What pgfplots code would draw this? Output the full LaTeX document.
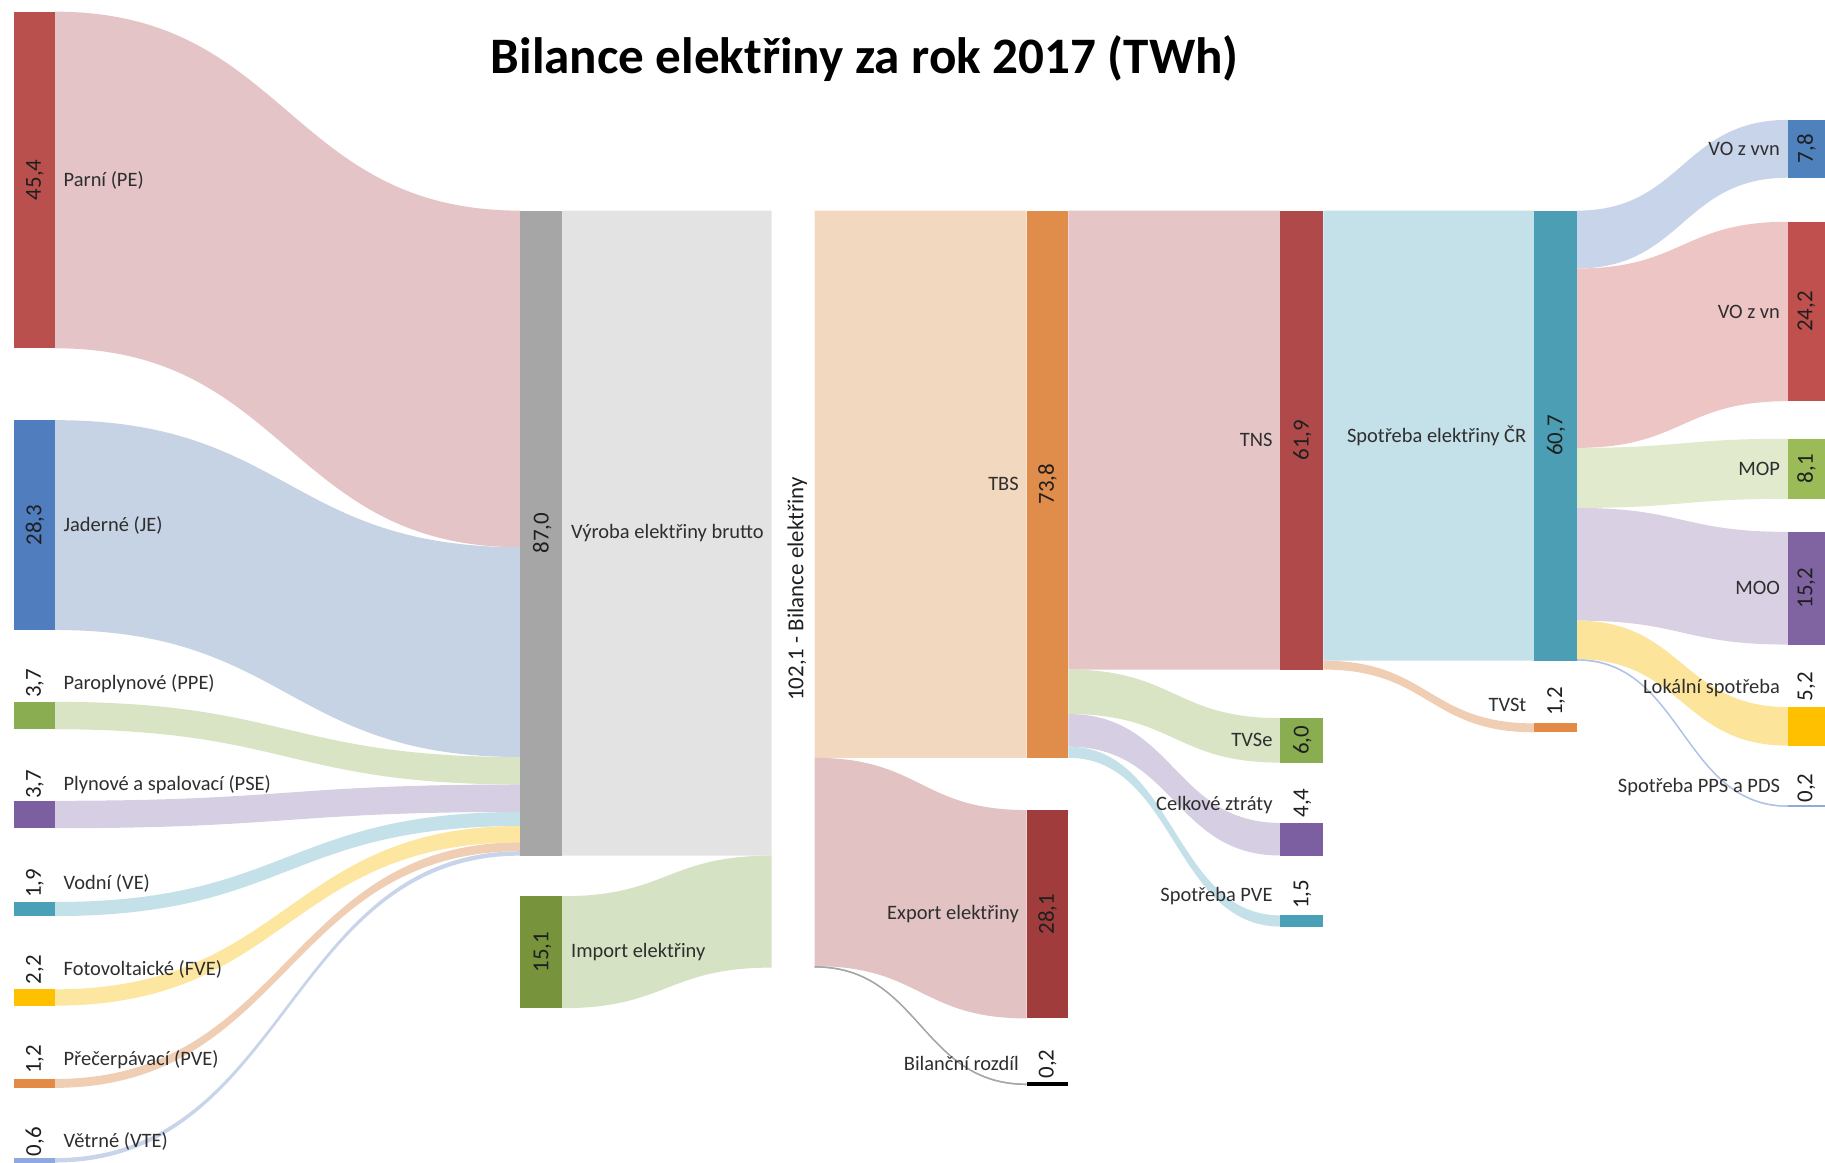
\documentclass[border=0pt]{standalone}
\usepackage{fontspec}
\setmainfont{Carlito}
\usepackage{pgfplots}
\pgfplotsset{compat=1.18}
% node colours
\definecolor{cPE}{HTML}{B9504E}
\definecolor{cJE}{HTML}{4F7DBD}
\definecolor{cPPE}{HTML}{8BAD52}
\definecolor{cPSE}{HTML}{7B5FA0}
\definecolor{cVE}{HTML}{4AA0B6}
\definecolor{cFVE}{HTML}{FFC000}
\definecolor{cPVE}{HTML}{E28A46}
\definecolor{cVTE}{HTML}{8EA9DB}
\definecolor{cVYR}{HTML}{A6A6A6}
\definecolor{cIMP}{HTML}{77933C}
\definecolor{cTBS}{HTML}{E08D4B}
\definecolor{cEXP}{HTML}{A03C3C}
\definecolor{cTNS}{HTML}{B04A4A}
\definecolor{cSPO}{HTML}{4B9EB4}
\definecolor{cVVN}{HTML}{4F81BD}
\definecolor{cVN}{HTML}{C0504D}
\definecolor{cMOP}{HTML}{9BBB59}
\definecolor{cMOO}{HTML}{8064A2}
% flow colours
\definecolor{fPE}{HTML}{E4C4C6}
\definecolor{fJE}{HTML}{C6D3E4}
\definecolor{fGR}{HTML}{D8E4C4}
\definecolor{fPU}{HTML}{D6CEE2}
\definecolor{fTE}{HTML}{C4E0E8}
\definecolor{fYE}{HTML}{FCE6A0}
\definecolor{fOR}{HTML}{F0CEB4}
\definecolor{fBL}{HTML}{C8D4EA}
\definecolor{fGY}{HTML}{E3E3E3}
\definecolor{fIMP}{HTML}{D6E2C4}
\definecolor{fTBS}{HTML}{F3D8C0}
\definecolor{fEXP}{HTML}{E2C2C2}
\definecolor{fTNS}{HTML}{E6C5C7}
\definecolor{fVN}{HTML}{EEC5C5}
\definecolor{fMOP}{HTML}{E1EACD}
\definecolor{fMOO}{HTML}{DAD0E4}
\definecolor{fLOK}{HTML}{FCE49A}

% flow band: x0, top0, bottom0, x1, top1, bottom1, colour
\newcommand{\flow}[7]{%
  \fill[#7] (axis cs:#1,#2) .. controls (axis cs:{0.5*(#1+#4)},#2) and (axis cs:{0.5*(#1+#4)},#5) .. (axis cs:#4,#5)
    -- (axis cs:#4,#6) .. controls (axis cs:{0.5*(#1+#4)},#6) and (axis cs:{0.5*(#1+#4)},#3) .. (axis cs:#1,#3) -- cycle;}
% thin flow drawn as a line along its middle
\newcommand{\thinflow}[5]{%
  \draw[#5, line width=0.35pt] (axis cs:#1,#2) .. controls (axis cs:{0.5*(#1+#3)},#2) and (axis cs:{0.5*(#1+#3)},#4) .. (axis cs:#3,#4);}
% node box: x0, x1, top, bottom, colour
\newcommand{\nbox}[5]{%
  \addplot[fill=#5, draw=none, forget plot] coordinates {(#1,#3) (#2,#3) (#2,#4) (#1,#4)} -- cycle;}

\tikzset{
  lab/.style={font=\fontsize{5}{6}\selectfont, text=black!82, inner sep=0pt},
  val/.style={font=\fontsize{5.6}{6}\selectfont, text=black!88, rotate=90, inner sep=0pt},
}

\begin{document}
\begin{tikzpicture}
\begin{axis}[
  scale only axis, width=15.68cm, height=9.99cm,
  xmin=0, xmax=1568, ymin=0, ymax=156.83, y dir=reverse,
  hide axis, clip=true,
]
% ---------- flows: sources -> Výroba elektřiny brutto ----------
\flow{47}{1.57}{46.97}{447}{28.41}{73.81}{fPE}
\flow{47}{56.67}{84.97}{447}{73.81}{102.11}{fJE}
\flow{47}{94.66}{98.36}{447}{102.11}{105.81}{fGR}
\flow{47}{108.01}{111.71}{447}{105.81}{109.51}{fPU}
\flow{47}{121.66}{123.56}{447}{109.51}{111.41}{fTE}
\flow{47}{133.44}{135.64}{447}{111.41}{113.61}{fYE}
\flow{47}{145.53}{146.73}{447}{113.61}{114.81}{fOR}
\flow{47}{156.20}{156.80}{447}{114.81}{115.41}{fBL}
% ---------- Výroba + Import -> Bilance ----------
\flow{483}{28.41}{115.41}{663}{28.41}{115.41}{fGY}
\flow{483}{120.88}{135.98}{663}{115.41}{130.51}{fIMP}
% ---------- Bilance -> TBS, Export, Bilanční rozdíl ----------
\flow{700}{28.41}{102.21}{882}{28.41}{102.21}{fTBS}
\flow{700}{102.21}{130.31}{882}{109.26}{137.36}{fEXP}
\flow{700}{130.31}{130.51}{882}{146.15}{146.35}{gray!60}
\thinflow{700}{130.41}{882}{146.25}{gray!70}
% ---------- TBS -> TNS, TVSe, Celkové ztráty, Spotřeba PVE ----------
\flow{918}{28.41}{90.31}{1100}{28.41}{90.31}{fTNS}
\flow{918}{90.31}{96.31}{1100}{96.86}{102.86}{fGR}
\flow{918}{96.31}{100.71}{1100}{110.99}{115.39}{fPU}
\flow{918}{100.71}{102.21}{1100}{123.47}{124.97}{fTE}
% ---------- TNS -> Spotřeba ČR, TVSt ----------
\flow{1137}{28.41}{89.11}{1318}{28.41}{89.11}{fTE}
\flow{1137}{89.11}{90.31}{1318}{97.57}{98.77}{fOR}
% ---------- Spotřeba ČR -> consumers ----------
\flow{1355}{28.41}{36.21}{1536}{16.17}{23.97}{fBL}
\flow{1355}{36.21}{60.41}{1536}{29.91}{54.11}{fVN}
\flow{1355}{60.41}{68.51}{1536}{59.18}{67.28}{fMOP}
\flow{1355}{68.51}{83.71}{1536}{71.74}{86.94}{fMOO}
\flow{1355}{83.71}{88.91}{1536}{95.37}{100.57}{fLOK}
\flow{1355}{88.91}{89.11}{1536}{108.63}{108.83}{fBL}
\thinflow{1355}{89.01}{1536}{108.73}{cVTE!70}

% ---------- nodes ----------
\nbox{12}{47}{1.57}{46.97}{cPE}
\nbox{12}{47}{56.67}{84.97}{cJE}
\nbox{12}{47}{94.66}{98.36}{cPPE}
\nbox{12}{47}{108.01}{111.71}{cPSE}
\nbox{12}{47}{121.66}{123.56}{cVE}
\nbox{12}{47}{133.44}{135.64}{cFVE}
\nbox{12}{47}{145.53}{146.73}{cPVE}
\nbox{12}{47}{156.20}{156.80}{cVTE}
\nbox{447}{483}{28.41}{115.41}{cVYR}
\nbox{447}{483}{120.88}{135.98}{cIMP}
\nbox{882}{918}{28.41}{102.21}{cTBS}
\nbox{882}{918}{109.26}{137.36}{cEXP}
\nbox{882}{918}{146.00}{146.50}{black}
\nbox{1100}{1137}{28.41}{90.31}{cTNS}
\nbox{1100}{1137}{96.86}{102.86}{cPPE}
\nbox{1100}{1137}{110.99}{115.39}{cPSE}
\nbox{1100}{1137}{123.47}{124.97}{cVE}
\nbox{1318}{1355}{28.41}{89.11}{cSPO}
\nbox{1318}{1355}{97.57}{98.77}{cPVE}
\nbox{1536}{1568}{16.17}{23.97}{cVVN}
\nbox{1536}{1568}{29.91}{54.11}{cVN}
\nbox{1536}{1568}{59.18}{67.28}{cMOP}
\nbox{1536}{1568}{71.74}{86.94}{cMOO}
\nbox{1536}{1568}{95.37}{100.57}{cFVE}
\nbox{1536}{1568}{108.58}{108.88}{cVTE}

% ---------- title ----------
\node[font=\fontsize{12.5}{14}\selectfont\bfseries, anchor=base, inner sep=0pt] at (axis cs:743,9.9) {Bilance elektřiny za rok 2017 (TWh)};

% ---------- left column labels ----------
\node[val] at (axis cs:30,24.27) {45,4};
\node[lab, anchor=west] at (axis cs:54,24.27) {Parní (PE)};
\node[val] at (axis cs:30,70.82) {28,3};
\node[lab, anchor=west] at (axis cs:54,70.82) {Jaderné (JE)};
\node[val] at (axis cs:30,92.15) {3,7};
\node[lab, anchor=west] at (axis cs:54,92.15) {Paroplynové (PPE)};
\node[val] at (axis cs:30,105.81) {3,7};
\node[lab, anchor=west] at (axis cs:54,105.81) {Plynové a spalovací (PSE)};
\node[val] at (axis cs:30,119.15) {1,9};
\node[lab, anchor=west] at (axis cs:54,119.15) {Vodní (VE)};
\node[val] at (axis cs:30,130.77) {2,2};
\node[lab, anchor=west] at (axis cs:54,130.77) {Fotovoltaické (FVE)};
\node[val] at (axis cs:30,142.86) {1,2};
\node[lab, anchor=west] at (axis cs:54,142.86) {Přečerpávací (PVE)};
\node[val] at (axis cs:30,154.00) {0,6};
\node[lab, anchor=west] at (axis cs:54,154.00) {Větrné (VTE)};

% ---------- middle labels ----------
\node[val] at (axis cs:466,71.91) {87,0};
\node[lab, anchor=west] at (axis cs:490,71.91) {Výroba elektřiny brutto};
\node[val] at (axis cs:466,128.43) {15,1};
\node[lab, anchor=west] at (axis cs:490,128.43) {Import elektřiny};
\node[val] at (axis cs:685,79.46) {102,1 - Bilance elektřiny};

\node[lab, anchor=east] at (axis cs:876,65.31) {TBS};
\node[val] at (axis cs:900,65.31) {73,8};
\node[lab, anchor=east] at (axis cs:876,123.31) {Export elektřiny};
\node[val] at (axis cs:900,123.31) {28,1};
\node[lab, anchor=east] at (axis cs:876,143.4) {Bilanční rozdíl};
\node[val] at (axis cs:900,143.5) {0,2};

\node[lab, anchor=east] at (axis cs:1094,59.36) {TNS};
\node[val] at (axis cs:1119,59.36) {61,9};
\node[lab, anchor=east] at (axis cs:1094,99.86) {TVSe};
\node[val] at (axis cs:1119,99.86) {6,0};
\node[lab, anchor=east] at (axis cs:1094,108.6) {Celkové ztráty};
\node[val] at (axis cs:1119,108.3) {4,4};
\node[lab, anchor=east] at (axis cs:1094,120.9) {Spotřeba PVE};
\node[val] at (axis cs:1119,120.6) {1,5};

\node[lab, anchor=east] at (axis cs:1312,58.76) {Spotřeba elektřiny ČR};
\node[val] at (axis cs:1337,58.76) {60,7};
\node[lab, anchor=east] at (axis cs:1312,95.1) {TVSt};
\node[val] at (axis cs:1337,94.6) {1,2};

% ---------- right column labels ----------
\node[lab, anchor=east] at (axis cs:1530,20.07) {VO z vvn};
\node[val] at (axis cs:1552,20.07) {7,8};
\node[lab, anchor=east] at (axis cs:1530,42.01) {VO z vn};
\node[val] at (axis cs:1552,42.01) {24,2};
\node[lab, anchor=east] at (axis cs:1530,63.23) {MOP};
\node[val] at (axis cs:1552,63.23) {8,1};
\node[lab, anchor=east] at (axis cs:1530,79.34) {MOO};
\node[val] at (axis cs:1552,79.34) {15,2};
\node[lab, anchor=east] at (axis cs:1530,92.78) {Lokální spotřeba};
\node[val] at (axis cs:1552,92.6) {5,2};
\node[lab, anchor=east] at (axis cs:1530,106.1) {Spotřeba PPS a PDS};
\node[val] at (axis cs:1552,106.3) {0,2};
\end{axis}
\pgfresetboundingbox
\path (0,0) rectangle (15.68cm,9.99cm);
\end{tikzpicture}
\end{document}
